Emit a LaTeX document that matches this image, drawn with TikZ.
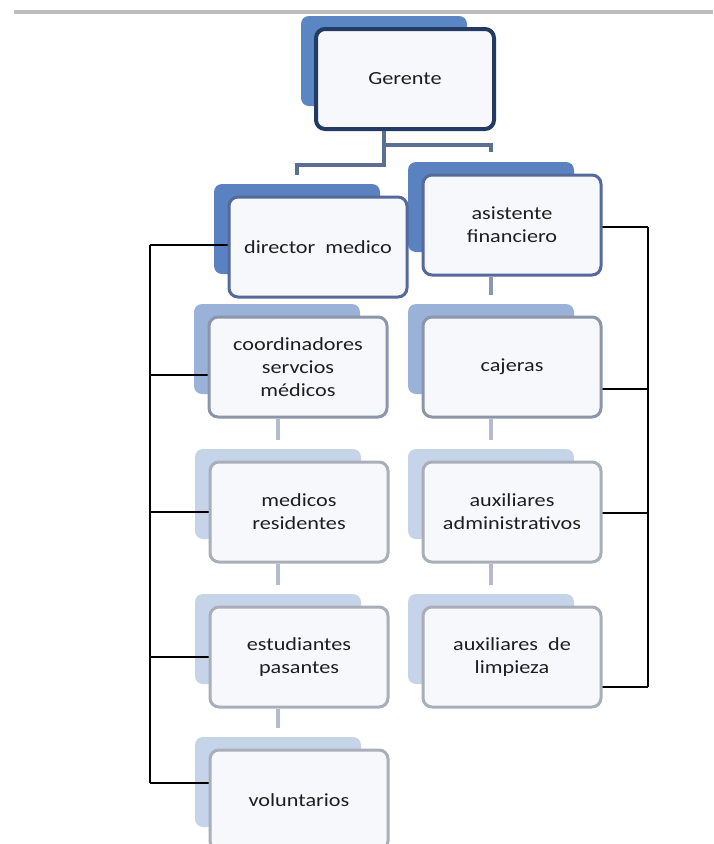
\documentclass[tikz,border=0pt]{standalone}
\usepackage{fontspec}
\setmainfont{Carlito}[FakeStretch=1.2]
\usetikzlibrary{positioning}

\definecolor{backA}{HTML}{5A86C4}
\definecolor{backB}{HTML}{5B82C0}
\definecolor{backC}{HTML}{9BB2D8}
\definecolor{backD}{HTML}{C6D4EA}
\definecolor{edgeA}{HTML}{233B63}
\definecolor{edgeB}{HTML}{55699A}
\definecolor{edgeC}{HTML}{8C95A9}
\definecolor{edgeD}{HTML}{A9AEB9}
\definecolor{trunkCol}{HTML}{5B6E93}
\definecolor{stemA}{HTML}{8D97AE}
\definecolor{stemB}{HTML}{B4BCCC}
\definecolor{ruleCol}{HTML}{BDBDBD}
\definecolor{cardFill}{HTML}{F7F8FB}
\definecolor{textCol}{HTML}{1E1E1E}

\begin{document}
\begin{tikzpicture}
[x=1pt,y=-1pt,
  cardBack/.style={shape=rectangle,rounded corners=8pt,fill=#1,
    minimum width=166pt,minimum height=90pt,inner sep=0pt},%
  cardFront/.style={shape=rectangle,rounded corners=9pt,draw=#1,
    line width=3pt,fill=cardFill,minimum width=178pt,minimum height=100pt,
    inner sep=2pt,align=center,text=textCol,
    font=\fontsize{18.5}{23}\selectfont},%
  trunkLine/.style={-,line width=4.5pt,draw=trunkCol},%
  stemLine/.style={-,line width=4.5pt,shorten >=9pt},%
  railLine/.style={-,line width=1.3pt,draw=black}]
\useasboundingbox (0,0) rectangle (713,844);
\clip (0,0) rectangle (713,844);
%% rule at the top
\draw[ruleCol,line width=3.5pt] (14,12) -- (713,12);
%% back cards
\foreach \nodename/\x/\y/\col in {
  ger/405/79/backA, dir/318/247/backB, asis/512/225/backB,
  coord/298/367/backC, caj/512/367/backC, med/299/512/backD,
  adm/512/512/backD, est/299/657/backD, limp/512/657/backD,
  vol/299/800/backD}
{
  \node (\nodename-b) at (\x-21,\y-18) [cardBack=\col] {};
}
%% rails
\coordinate (lrail) at (150,0);
\coordinate (rrail) at (648,0);
\foreach \nodename/\x/\y in {
  dir/318/247, coord/298/367, med/299/512, est/299/657, vol/299/800,
  asis/512/225, caj/512/367, adm/512/512, limp/512/657}
{
  \coordinate (\nodename-w) at (\x-89,\y);
  \coordinate (\nodename-e) at (\x+89,\y);
}
\draw[railLine] ([yshift=2pt]dir-w -| lrail) -- ([yshift=17pt]vol-w -| lrail);
\foreach \n/\dy in {dir/2, coord/-8, med/0, est/0, vol/17}
{
  \draw[railLine] ([yshift=\dy pt]\n-w -| lrail) -- ([yshift=\dy pt]\n-w);
}
\draw[railLine] ([yshift=-2pt]asis-e -| rrail) -- ([yshift=-30pt]limp-e -| rrail);
\foreach \n/\dy in {asis/-2, caj/-22, adm/-1, limp/-30}
{
  \draw[railLine] ([yshift=\dy pt]\n-e) -- ([yshift=\dy pt]\n-e -| rrail);
}
%% front cards
\foreach \nodename/\x/\y/\col/\lw/\label in {
  ger/405/79/edgeA/4/Gerente, dir/318/247/edgeB/3/director~~medico,
  asis/512/225/edgeB/3/asistente\\financiero,
  coord/298/367/edgeC/3/coordinadores\\servcios\\médicos,
  caj/512/367/edgeC/3/cajeras, med/299/512/edgeD/3/medicos\\residentes,
  adm/512/512/edgeD/3/auxiliares\\administrativos,
  est/299/657/edgeD/3/estudiantes\\pasantes,
  limp/512/657/edgeD/3/auxiliares~~de\\limpieza,
  vol/299/800/edgeD/3/voluntarios}
{
  \node (\nodename) at (\x,\y) [cardFront=\col,line width=\lw pt] {\label};
}
%% lines between cards
\draw[trunkLine] (ger.south -| ger-b.center) -- ++(0,34) -| ([yshift=9pt]dir-b.north);
\draw[trunkLine] (ger.south -| ger-b.center) ++(0,14) -| ([yshift=10pt]asis-b.north);
\path
\foreach \upper/\lower/\col in {coord/med/stemB,
  med/est/stemB, est/vol/stemB, asis/caj/stemA, caj/adm/stemB,
  adm/limp/stemB}
{
  (\upper.south -| \lower-b.north) edge[stemLine,draw=\col] (\lower-b.north)
};
\end{tikzpicture}
\end{document}
